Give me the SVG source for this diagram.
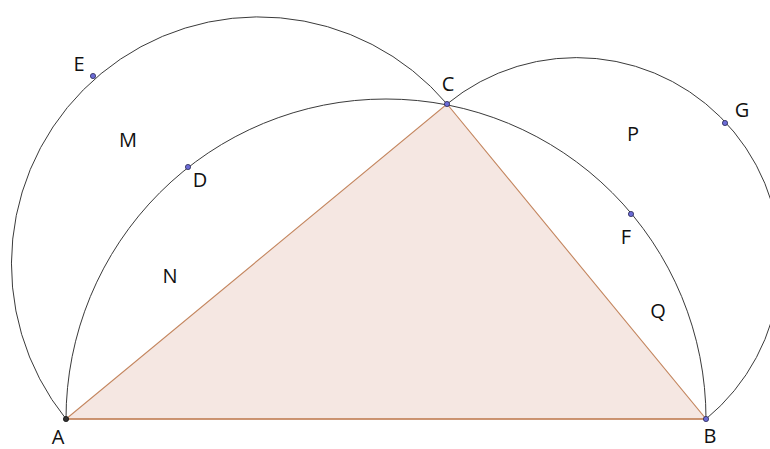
<svg xmlns="http://www.w3.org/2000/svg" width="770" height="449" viewBox="0 0 770 449">
<style>
.arc{fill:none;stroke:#3a3a3a;stroke-width:1}
.pt{fill:#6b6bd6;stroke:#2a2a55;stroke-width:0.8}
.lbl{font-family:"Open Sans","Liberation Sans",sans-serif;font-size:20px;fill:#111;text-anchor:middle}
</style>
<rect width="770" height="449" fill="#ffffff"/>
<g id="triangle">
<polygon points="66,419 706,419 447,104" fill="#f5e7e2" stroke="#c4865f" stroke-width="1.1"/>
<line x1="66" y1="419" x2="706" y2="419" stroke="#c4865f" stroke-width="1.6"/>
</g>
<g id="arcs">
<path class="arc" d="M66 419 A247.2 247.2 0 0 1 447 104"/>
<path class="arc" d="M66 419 A320 320 0 0 1 706 419"/>
<path class="arc" d="M447 104 A203.9 203.9 0 0 1 706 419"/>
</g>
<g id="points">
<circle cx="66" cy="419" r="2.6" fill="#333" stroke="#111" stroke-width="0.8"/>
<circle class="pt" cx="706" cy="419" r="2.6"/>
<circle class="pt" cx="447" cy="104" r="2.6"/>
<circle class="pt" cx="93" cy="76" r="2.6"/>
<circle class="pt" cx="188" cy="167" r="2.6"/>
<circle class="pt" cx="631" cy="214" r="2.6"/>
<circle class="pt" cx="725" cy="123" r="2.6"/>
</g>
<g id="labels">
<text class="lbl" x="58" y="444">A</text>
<text class="lbl" x="710" y="443">B</text>
<text class="lbl" x="448" y="91">C</text>
<text class="lbl" x="79" y="71">E</text>
<text class="lbl" x="200" y="187">D</text>
<text class="lbl" x="626" y="244">F</text>
<text class="lbl" x="742" y="117">G</text>
<text class="lbl" x="128" y="147">M</text>
<text class="lbl" x="170" y="283">N</text>
<text class="lbl" x="633" y="141">P</text>
<text class="lbl" x="658" y="318">Q</text>
</g>
</svg>
